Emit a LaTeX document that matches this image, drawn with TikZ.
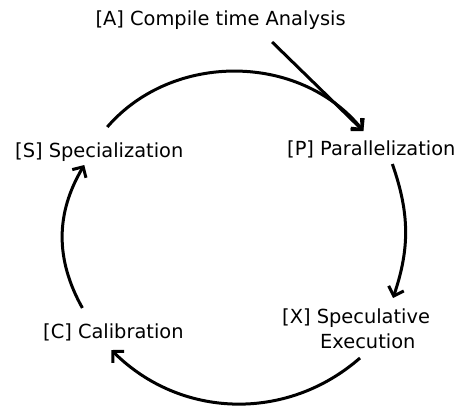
\documentclass[tikz,border=0pt]{standalone}
\usepackage{fontspec}
\setmainfont{DejaVu Sans}
\usetikzlibrary{arrows.meta}
\begin{document}
\begin{tikzpicture}[x=1pt,y=1pt,
  lbl/.style={inner sep=0pt, anchor=base west, font=\fontsize{19.4}{25}\selectfont},
  flow/.style={line width=3pt, -{Straight Barb[length=8pt,width=16pt]}}]
\useasboundingbox (0,0) rectangle (465,405);

% stage labels (a two-line label sits on the baseline of its last line)
\node[lbl] (A) at (95.4,379) {[A] Compile time Analysis};
\node[lbl] (P) at (287,250) {[P] Parallelization};
\node[lbl] (S) at (15,248) {[S] Specialization};
\node[lbl] (C) at (43,67) {[C] Calibration};
\node[lbl, align=left] (X) at (282,57) {[X] Speculative\\\hspace*{38pt}Execution};

% connector end points around the labels
\coordinate (a-out) at ([shift={(51.5,-16)}]A.base);
\coordinate (p-in)  at ([shift={(-8,24)}]P.base);
\coordinate (p-out) at ([shift={(21,-9)}]P.base);
\coordinate (s-out) at ([shift={(8,30)}]S.base);
\coordinate (s-in)  at ([shift={(-15,-8)}]S.base);
\coordinate (c-out) at ([shift={(-31,30)}]C.base);
\coordinate (c-in)  at ([shift={(-2,-12)}]C.base);
\coordinate (x-in)  at ([shift={(111,50)}]X.base west);
\coordinate (x-out) at ([shift={(78,-10)}]X.base west);

% the cycle
\draw[flow] (s-out) to[bend left=50] (p-in);
\draw[flow] (p-out) to[bend left=19] (x-in);
\draw[flow] (x-out) to[bend left=43] (c-in);
\draw[flow] (c-out) to[bend left=30] (s-in);

% entry from analysis
\draw[flow] (a-out) -- (p-in);
\end{tikzpicture}
\end{document}
